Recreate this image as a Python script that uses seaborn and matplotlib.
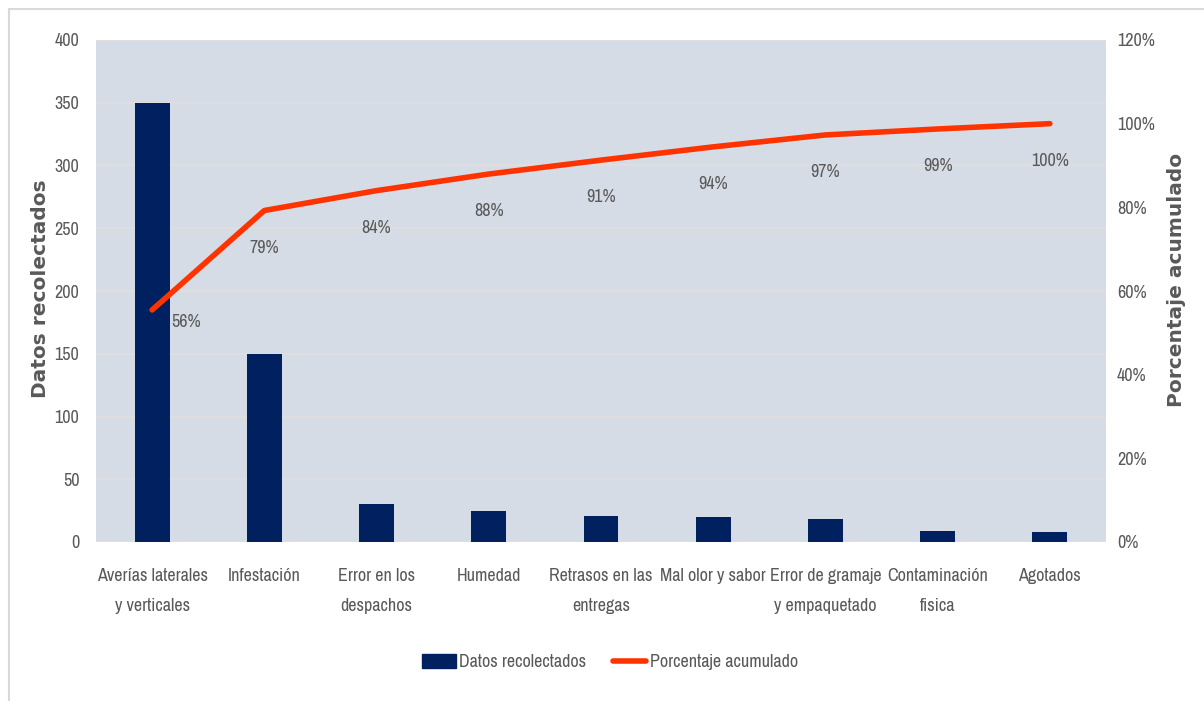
import numpy as np
import pandas as pd
import matplotlib
matplotlib.use("Agg")
import matplotlib.pyplot as plt
import seaborn as sns
from matplotlib.patches import Rectangle, Patch
from matplotlib.lines import Line2D
from matplotlib.ticker import FuncFormatter, MultipleLocator

categorias = ["Averías laterales\ny verticales", "Infestación", "Error en los\ndespachos",
              "Humedad", "Retrasos en las\nentregas", "Mal olor y sabor",
              "Error de gramaje\ny empaquetado", "Contaminación\nfisica", "Agotados"]
datos = [350, 150, 30, 25, 21, 20, 18, 9, 8]
etiquetas_pct = ["56%", "79%", "84%", "88%", "91%", "94%", "97%", "99%", "100%"]

acum = np.cumsum(datos) / np.sum(datos) * 100

sns.set_theme(style="white")
plt.rcParams['font.family'] = ['Archivo Narrow', 'DejaVu Sans']

GRAY = "#595959"
NAVY = "#002060"
ORANGE = "#FF3300"
FS = 13

fig = plt.figure(figsize=(12.04, 7.01), dpi=100)
fig.patch.set_facecolor("white")
ax = fig.add_axes([96/1204, 1-542/701, (1106-96)/1204, (542-40)/701])
ax.set_facecolor("#D6DCE5")

df = pd.DataFrame({"cat": categorias, "val": datos})
sns.barplot(data=df, x="cat", y="val", color=NAVY, width=0.31, ax=ax,
            saturation=1, linewidth=0)
ax.set_ylim(0, 400)
ax.set_xlim(-0.5, len(datos) - 0.5)
ax.yaxis.set_major_locator(MultipleLocator(50))
ax.grid(axis="y", color="#E3DEDE", linewidth=1.2)
ax.set_axisbelow(True)
for sp in ax.spines.values():
    sp.set_visible(False)
ax.tick_params(axis="both", length=0, colors=GRAY, labelsize=FS)
ax.tick_params(axis="y", pad=12)
ax.tick_params(axis="x", pad=19)
plt.setp(ax.get_xticklabels(), linespacing=2.05)
ax.set_xlabel("")
ax.set_ylabel("Datos recolectados", color=GRAY, fontsize=14.5, fontweight="bold",
              family=["DejaVu Sans"])
ax.yaxis.set_label_coords((50-96)/1010, (542-289)/502)

ax2 = ax.twinx()
sns.lineplot(x=np.arange(len(datos)), y=acum, color=ORANGE, linewidth=4,
             ax=ax2, solid_capstyle="round")
ax2.set_ylim(0, 120)
ax2.yaxis.set_major_locator(MultipleLocator(20))
ax2.yaxis.set_major_formatter(FuncFormatter(lambda v, p: f"{v:.0f}%"))
for sp in ax2.spines.values():
    sp.set_visible(False)
ax2.tick_params(axis="y", length=0, colors=GRAY, labelsize=FS, pad=8)
ax2.set_ylabel("Porcentaje acumulado", color=GRAY, fontsize=14.5, fontweight="bold",
               family=["DejaVu Sans"])
ax2.yaxis.set_label_coords((1167-96)/1010, (542-280)/502)
ax2.grid(False)

for i, (y, t) in enumerate(zip(acum, etiquetas_pct)):
    if i == 0:
        off = (34, -12)
    else:
        off = (0, -37)
    ax2.annotate(t, (i, y), xytext=off, textcoords="offset pixels",
                 ha="center", va="center", color=GRAY, fontsize=FS)

handles = [Patch(facecolor=NAVY, edgecolor=NAVY),
           Line2D([0], [0], color=ORANGE, linewidth=4, solid_capstyle="round")]
leg = fig.legend(handles, ["Datos recolectados", "Porcentaje acumulado"],
                 loc="center", bbox_to_anchor=(610/1204, 1-662/701), ncol=2,
                 frameon=False, fontsize=FS, handlelength=1.85, handleheight=0.8,
                 handletextpad=0.2, columnspacing=1.45)
for t in leg.get_texts():
    t.set_color(GRAY)

fig.patches.append(Rectangle((9/1204, -0.05), 1.2, (701-9)/701 + 0.05,
                             transform=fig.transFigure, fill=False,
                             edgecolor="#D9D9D9", linewidth=1.5))

fig.savefig("out.png", dpi=100)
